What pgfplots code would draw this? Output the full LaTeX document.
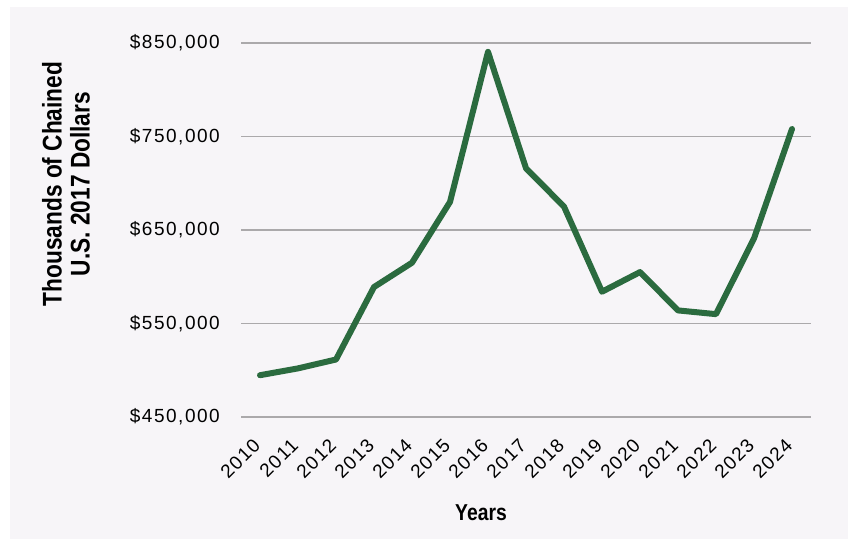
\documentclass[border=0pt]{standalone}
\usepackage{pgfplots}
\pgfplotsset{compat=1.18}
\usepackage{fontspec}
\setmainfont{Liberation Sans}[LetterSpace=8]
\newfontfamily\titlefont{Liberation Sans}[FakeStretch=0.84]

\definecolor{panel}{HTML}{F7F5F8}
\definecolor{series}{HTML}{2B6B3F}
\definecolor{gridgray}{HTML}{ABA9AB}

\begin{document}
\begin{tikzpicture}[x=1pt,y=1pt]
  \path[use as bounding box] (0,0) rectangle (850,539);
  \fill[panel] (10,0) rectangle (848,532);
  \begin{axis}[
    at={(241pt,122pt)}, anchor=south west,
    scale only axis, width=570pt, height=374pt,
    xmin=2009.5, xmax=2024.5,
    ymin=450000, ymax=850000,
    xtick={2010,2011,...,2024},
    xticklabels={2010,2011,2012,2013,2014,2015,2016,2017,2018,2019,2020,2021,2022,2023,2024},
    ytick={450000,550000,650000,750000,850000},
    scaled y ticks=false,
    /pgf/number format/assume math mode=true,
    yticklabel={\$\pgfmathprintnumber[fixed,1000 sep={,}]{\tick}},
    yticklabel style={font=\fontsize{19}{22}\selectfont, anchor=east, inner sep=0pt, xshift=-21pt},
    xticklabel style={font=\fontsize{19}{22}\selectfont, inner sep=0pt, yshift=-25pt, xshift=-3pt, rotate=45, anchor=east},
    major tick length=0pt,
    axis line style={draw=none},
    ymajorgrids,
    grid style={gridgray, line width=1.6pt},
    clip=false,
  ]
    \addplot[series, line width=6pt, line join=round, line cap=round] coordinates {
      (2010,494700) (2011,502000) (2012,511500) (2013,589000) (2014,615000)
      (2015,680000) (2016,840500) (2017,716000) (2018,675000) (2019,584000)
      (2020,605000) (2021,564000) (2022,560000) (2023,641000) (2024,758000)
    };
  \end{axis}
  \node[font=\titlefont\bfseries\fontsize{23}{23}\selectfont, anchor=base] at (481,19) {Years};
  \node[font=\titlefont\bfseries\fontsize{27}{28}\selectfont, rotate=90, align=center] at (66,355)
    {Thousands of Chained\\U.S. 2017 Dollars};
\end{tikzpicture}
\end{document}
